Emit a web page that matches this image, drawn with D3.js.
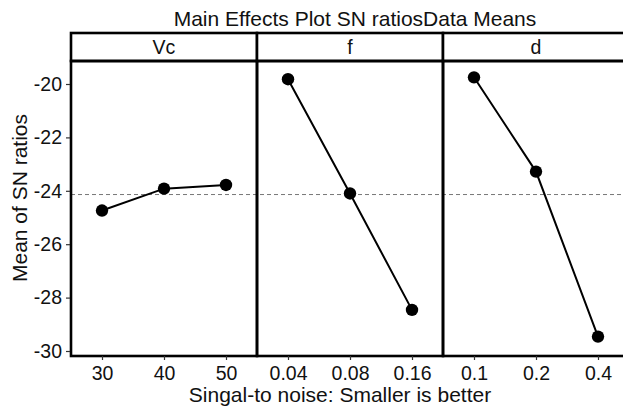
<!DOCTYPE html>
<html>
<head>
<meta charset="utf-8">
<script src="https://cdn.jsdelivr.net/npm/d3@7"></script>
<style>
  body { margin: 0; background: #fff; }
  text { font-family: "Liberation Sans", Arial, sans-serif; fill: #111; }
</style>
</head>
<body>
<div id="viz"></div>
<script>
  // factors and their levels
  var factors = ["Vc", "f", "d"];
  var levelsVc = ["30", "40", "50"];
  var levelsF = ["0.04", "0.08", "0.16"];
  var levelsD = ["0.1", "0.2", "0.4"];
  var meansVc = [-24.74, -23.92, -23.78];
  var meansF = [-19.82, -24.10, -28.46];
  var meansD = [-19.75, -23.28, -29.46];
  var yTicks = [-20, -22, -24, -26, -28, -30];
  var grandMean = -24.14;

(function() {
  var levels = [levelsVc, levelsF, levelsD];
  var means = [meansVc, meansF, meansD];

  var width = 623, height = 410;
  var left = 71, plotTop = 61, stripH = 28, bottom = 356, panelW = 186;
  var font = "'Liberation Sans', Arial, sans-serif";
  var tickFont = "19.5px";

  var svg = d3.select("#viz").append("svg")
    .attr("width", width).attr("height", height);

  var y = d3.scaleLinear().domain([-30, -20]).range([351, 84]);

  var panelX = d3.scaleBand().domain(factors)
    .range([left, left + panelW * factors.length]);

  // title
  svg.append("text")
    .attr("x", 355).attr("y", 26)
    .attr("text-anchor", "middle")
    .style("font-size", "21px")
    .text("Main Effects Plot SN ratiosData Means");

  // dashed grand-mean line behind points
  svg.append("line")
    .attr("x1", left).attr("x2", left + panelW * 3)
    .attr("y1", y(grandMean)).attr("y2", y(grandMean))
    .style("stroke", "#777").style("stroke-width", 1)
    .style("stroke-dasharray", "4,3");

  factors.forEach(function(name, i) {
    var x0 = panelX(name);
    var g = svg.append("g");

    var x = d3.scalePoint().domain(levels[i])
      .range([x0, x0 + panelW]).padding(0.5);

    var pts = levels[i].map(function(l, j) { return { lev: l, val: means[i][j] }; });

    // strip
    g.append("rect")
      .attr("x", x0).attr("y", plotTop - stripH)
      .attr("width", panelW).attr("height", stripH)
      .style("fill", "#fff").style("stroke", "#000").style("stroke-width", 2.6);
    g.append("text")
      .attr("x", x0 + panelW / 2).attr("y", plotTop - 7)
      .attr("text-anchor", "middle")
      .style("font-size", tickFont)
      .text(name);

    // panel border
    g.append("rect")
      .attr("x", x0).attr("y", plotTop)
      .attr("width", panelW).attr("height", bottom - plotTop)
      .style("fill", "none").style("stroke", "#000").style("stroke-width", 2.6);

    // x axis
    var xa = g.append("g")
      .attr("transform", "translate(0," + bottom + ")")
      .call(d3.axisBottom(x).tickSize(4).tickPadding(6));
    xa.select(".domain").remove();
    xa.selectAll("line").style("stroke", "#333").style("stroke-width", 1.2);
    xa.selectAll("text").style("font-size", tickFont)
      .style("font-family", font).style("fill", "#111");

    // line + points
    g.append("path").datum(pts)
      .attr("d", d3.line().x(function(d) { return x(d.lev); }).y(function(d) { return y(d.val); }))
      .style("fill", "none").style("stroke", "#000").style("stroke-width", 2);
    g.selectAll("circle").data(pts).enter().append("circle")
      .attr("cx", function(d) { return x(d.lev); })
      .attr("cy", function(d) { return y(d.val); })
      .attr("r", 6.2)
      .style("fill", "#000");
  });

  // y axis
  var ya = svg.append("g")
    .attr("transform", "translate(" + (left - 1) + ",0)")
    .call(d3.axisLeft(y).tickValues(yTicks).tickSize(4).tickPadding(4)
      .tickFormat(function(d) { return String(d); }));
  ya.select(".domain").remove();
  ya.selectAll("line").style("stroke", "#333").style("stroke-width", 1.2);
  ya.selectAll("text").style("font-size", tickFont)
    .style("font-family", font).style("fill", "#111");

  // axis titles
  svg.append("text")
    .attr("x", 340).attr("y", 402)
    .attr("text-anchor", "middle")
    .style("font-size", "21px")
    .text("Singal-to noise: Smaller is better");

  svg.append("text")
    .attr("transform", "translate(27,198) rotate(-90)")
    .attr("text-anchor", "middle")
    .style("font-size", "21px")
    .text("Mean of SN ratios");
})();
</script>
</body>
</html>
